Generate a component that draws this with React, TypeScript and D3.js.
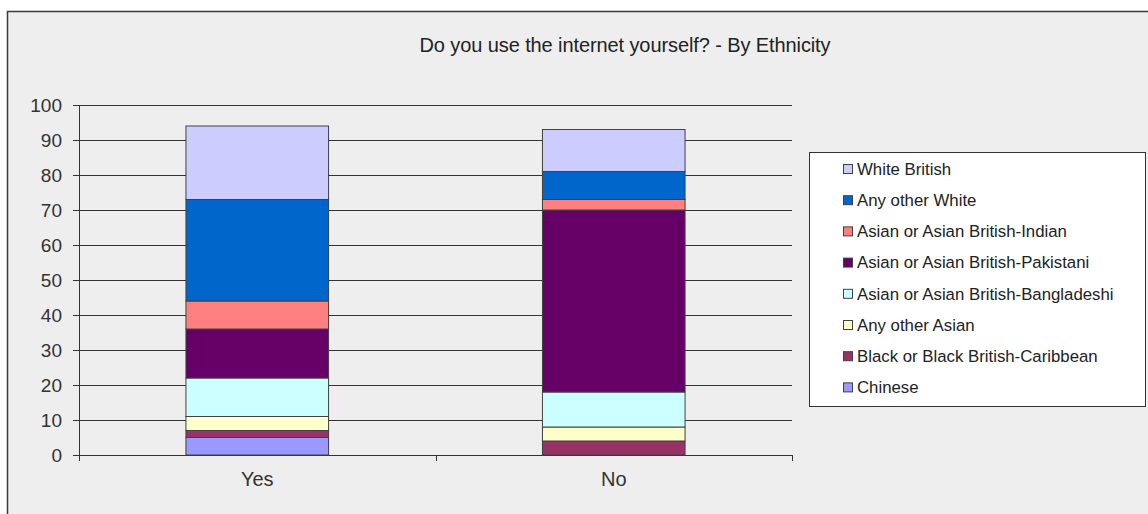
import React from "react";
import * as d3 from "d3";

const categories = ["Yes", "No"];
const seriesNames = [
  "Chinese",
  "Black or Black British-Caribbean",
  "Any other Asian",
  "Asian or Asian British-Bangladeshi",
  "Asian or Asian British-Pakistani",
  "Asian or Asian British-Indian",
  "Any other White",
  "White British",
];
const seriesColors = ["#9999ff", "#993366", "#ffffcc", "#ccffff", "#660066", "#ff8080", "#0066cc", "#ccccff"];
const yesValues = [5, 2, 4, 11, 14, 8, 29, 21];
const noValues = [0, 4, 4, 10, 52, 3, 8, 12];
const yTicks = [0, 10, 20, 30, 40, 50, 60, 70, 80, 90, 100];
const title = "Do you use the internet yourself? - By Ethnicity";

const W = 1148;
const H = 514;
const FONT = "'Liberation Sans', Arial, sans-serif";

export default function App() {
  const x0 = 79, x1 = 792, yTop = 105, yBot = 455;
  const x = d3.scaleBand<string>().domain(categories).range([x0, x1]).padding(0);
  const y = d3.scaleLinear().domain([0, 100]).range([yBot, yTop]);
  const barW = x.bandwidth() * 0.4;

  const rows = categories.map((c, ci) => {
    const vals = ci === 0 ? yesValues : noValues;
    const obj: any = { cat: c };
    seriesNames.forEach((s, i) => (obj[s] = vals[i]));
    return obj;
  });
  const stacked = d3.stack<any>().keys(seriesNames)(rows);

  const legendItems = seriesNames.map((s, i) => ({ name: s, color: seriesColors[i] })).reverse();

  return (
    <svg width={W} height={H} style={{ position: "absolute", left: 0, top: 0, display: "block" }} fontFamily={FONT}>
      <rect x={0} y={0} width={W} height={H} fill="#ffffff" />
      <rect x={7.5} y={11.5} width={W + 10} height={H + 10} fill="#eeeeee" stroke="#3a3a3a" strokeWidth={1.5} />
      <text x={625} y={52} textAnchor="middle" fontSize={20} letterSpacing={-0.1} fill="#222">{title}</text>

      {/* gridlines */}
      {yTicks.map((t) => (
        <g key={t}>
          <line x1={x0 - 6} x2={x1} y1={Math.round(y(t)) + 0.5} y2={Math.round(y(t)) + 0.5} stroke="#333" strokeWidth={1} />
          <text x={62} y={y(t)} dy="0.35em" textAnchor="end" fontSize={19} fill="#333">{t}</text>
        </g>
      ))}
      {/* y axis */}
      <line x1={x0 + 0.5} x2={x0 + 0.5} y1={yTop} y2={yBot} stroke="#333" strokeWidth={1} />
      {/* x ticks */}
      {[x0, x0 + x.bandwidth(), x1].map((xx, i) => (
        <line key={i} x1={Math.round(xx) + 0.5} x2={Math.round(xx) + 0.5} y1={yBot} y2={yBot + 6} stroke="#333" strokeWidth={1} />
      ))}

      {/* bars */}
      {stacked.map((layer, li) => (
        <g key={layer.key} fill={seriesColors[li]}>
          {layer.map((d, di) => {
            const cx = (x(categories[di]) as number) + x.bandwidth() / 2;
            const h = y(d[0]) - y(d[1]);
            if (h <= 0) return null;
            return (
              <rect key={di} x={cx - barW / 2} y={y(d[1])} width={barW} height={h} stroke="#404040" strokeWidth={1} />
            );
          })}
        </g>
      ))}

      {categories.map((c) => (
        <text key={c} x={(x(c) as number) + x.bandwidth() / 2} y={486} textAnchor="middle" fontSize={20} fill="#333">{c}</text>
      ))}

      {/* legend */}
      <rect x={809.5} y={152.5} width={336} height={254} fill="#ffffff" stroke="#333" strokeWidth={1} />
      {legendItems.map((it, i) => {
        const cy = 169 + i * 31.2;
        return (
          <g key={it.name}>
            <rect x={843.5} y={cy - 4.5} width={9} height={9} fill={it.color} stroke="#404040" strokeWidth={1} />
            <text x={857} y={cy} dy="0.35em" fontSize={16.8} fill="#222">{it.name}</text>
          </g>
        );
      })}
    </svg>
  );
}
